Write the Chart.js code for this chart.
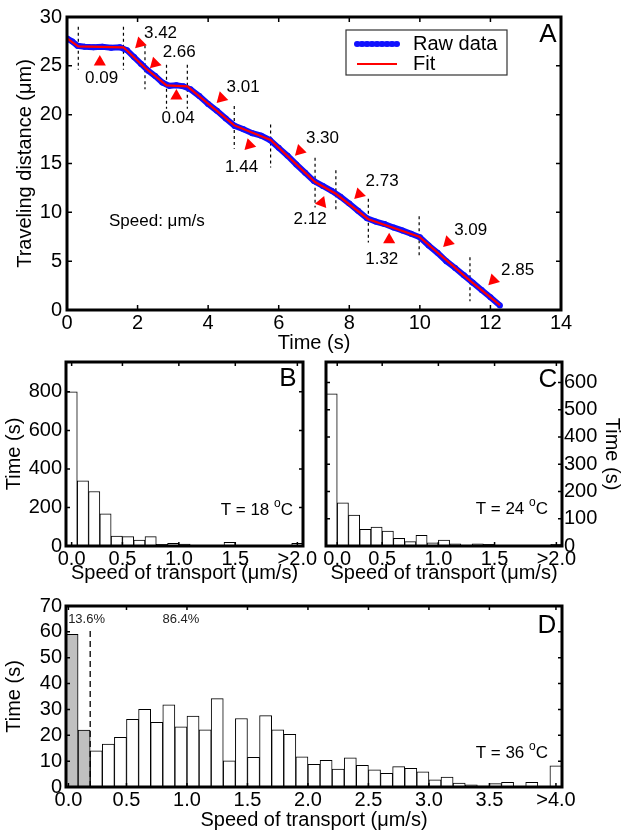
<!DOCTYPE html>
<html>
<head>
<meta charset="utf-8">
<script src="https://cdn.jsdelivr.net/npm/chart.js@4.4.0/dist/chart.umd.min.js"></script>
<style>
  body { margin: 0; background: #fff; width: 624px; height: 835px; position: relative; overflow: hidden; }
  canvas { position: absolute; }
</style>
</head>
<body>
<canvas id="chartA" width="624" height="355" style="left:0;top:0"></canvas>
<canvas id="chartB" width="330" height="260" style="left:0;top:330px"></canvas>
<canvas id="chartC" width="324" height="260" style="left:300px;top:330px"></canvas>
<canvas id="chartD" width="624" height="245" style="left:0;top:590px"></canvas>
<script>
// ---- panel A: traveling distance over time ----
const fitTime = [0, 0.32, 1.6, 2.21, 2.82, 3.41, 4.74, 5.77, 7.03, 7.62, 8.54, 9.98, 11.42, 12.27];
const fitDist = [27.8, 27.0, 26.9, 24.8, 23.0, 22.9, 18.9, 17.4, 13.1, 11.9, 9.3, 7.5, 3.0, 0.5];

const rawTime = [0, 0.15, 0.3, 0.5, 0.75, 1.0, 1.25, 1.5, 1.7, 1.9, 2.1, 2.3, 2.5, 2.7, 2.9,
                 3.1, 3.3, 3.5, 3.75, 4.0, 4.25, 4.5, 4.75, 5.0, 5.25, 5.5, 5.75, 6.0, 6.25, 6.5,
                 6.75, 7.0, 7.25, 7.5, 7.75, 8.0, 8.25, 8.5, 8.75, 9.0, 9.25, 9.5, 9.75, 10.0,
                 10.25, 10.5, 10.75, 11.0, 11.25, 11.5, 11.75, 12.0, 12.27];
const rawDist = [27.8, 27.5, 27.05, 26.95, 26.9, 26.95, 26.85, 26.9, 26.6, 25.9, 25.2, 24.5, 23.95, 23.3, 22.95,
                 23.0, 22.9, 22.6, 21.9, 21.1, 20.4, 19.6, 18.85, 18.5, 18.1, 17.85, 17.4, 16.6, 15.8, 14.9,
                 14.05, 13.2, 12.7, 12.2, 11.6, 10.9, 10.15, 9.4, 9.05, 8.8, 8.45, 8.15, 7.8, 7.45,
                 6.6, 5.85, 5.0, 4.3, 3.55, 2.8, 2.05, 1.3, 0.45];

// dashed markers where the speed changes
const cutTime   = [0.32, 1.6, 2.21, 2.82, 3.41, 4.74, 5.77, 7.03, 7.62, 8.54, 9.98, 11.42];
const cutTop    = [29.0, 29.0, 27.1, 25.1, 25.1, 20.9, 19.0, 15.6, 14.3, 11.4, 9.6, 5.4];
const cutBottom = [24.6, 24.6, 22.6, 20.6, 20.6, 16.5, 14.6, 10.5, 10.0, 6.9, 5.3, 0.9];

// speed of each segment (um/s) and its red arrow
const speedText = ['0.09', '3.42', '2.66', '0.04', '3.01', '1.44', '3.30', '2.12', '2.73', '1.32', '3.09', '2.85'];
const arrowTime = [0.93, 2.07, 2.49, 3.1, 4.38, 5.17, 6.6, 7.22, 8.28, 9.13, 10.8, 12.08];
const arrowDist = [25.4, 27.3, 25.25, 21.9, 21.7, 16.9, 16.3, 11.0, 11.86, 7.2, 6.95, 3.05];
const arrowTurn = [0, 225, 225, 0, 225, -15, 225, 20, 225, 0, 225, 225];
const labelTime = [0.98, 2.65, 3.18, 3.15, 4.99, 4.95, 7.24, 6.89, 8.93, 8.92, 11.44, 12.77];
const labelDist = [23.7, 28.3, 26.4, 19.6, 22.8, 14.6, 17.6, 9.3, 13.15, 5.15, 8.2, 4.1];

// ---- panels B, C, D: histograms of transport speed ----
const binsB = [0.05, 0.15, 0.25, 0.35, 0.45, 0.55, 0.65, 0.75, 0.85, 0.95, 1.05,
               1.15, 1.25, 1.35, 1.45, 1.55, 1.65, 1.75, 1.85, 1.95, 2.05];
const timeB = [800, 338, 283, 167, 52, 49, 31, 49, 9, 14, 10, 0, 0, 0, 19, 0, 0, 0, 0, 0, 14];
const timeC = [558, 158, 113, 61, 69, 55, 28, 16, 39, 12, 22, 8, 2, 8, 6, 0, 0, 0, 0, 0, 6];
const tickPosB = [0.05, 0.5, 1.0, 1.5, 2.05];
const tickPosC = [0.1, 0.5, 1.0, 1.5, 2.05];
const tickTextBC = ['0.0', '0.5', '1.0', '1.5', '>2.0'];

const binsD = [0.05, 0.15, 0.25, 0.35, 0.45, 0.55, 0.65, 0.75, 0.85, 0.95,
               1.05, 1.15, 1.25, 1.35, 1.45, 1.55, 1.65, 1.75, 1.85, 1.95,
               2.05, 2.15, 2.25, 2.35, 2.45, 2.55, 2.65, 2.75, 2.85, 2.95,
               3.05, 3.15, 3.25, 3.35, 3.45, 3.55, 3.65, 3.75, 3.85, 3.95, 4.05];
const timeD = [59, 22, 14, 16.6, 19.2, 26.2, 30, 25, 31.8, 23.3,
               27.4, 22.1, 34.2, 10.1, 26.5, 11.5, 27.6, 22.1, 20.4, 11.7,
               8.8, 10.3, 6.9, 11.3, 8.4, 6.6, 5.3, 7.9, 7.2, 5.9,
               2.8, 3.8, 1.5, 0.8, 0.4, 1.3, 1.8, 0, 1.8, 0, 8.2];
const tickPosD = [0.02, 0.5, 1.0, 1.5, 2.0, 2.5, 3.0, 3.5, 4.05];
const tickTextD = ['0.0', '0.5', '1.0', '1.5', '2.0', '2.5', '3.0', '3.5', '>4.0'];
const pausedBins = 2;   // first bins shaded grey (slow, 13.6%)
const splitSpeed = 0.2;


const FONT = '"Liberation Sans", Arial, Helvetica, sans-serif';
Chart.defaults.font.family = FONT;
Chart.defaults.font.size = 20;
Chart.defaults.color = '#000';
Chart.defaults.animation = false;
Chart.defaults.events = [];
Chart.defaults.plugins.legend.display = false;
Chart.defaults.plugins.tooltip.enabled = false;


// box around the plot with matlab style inward ticks
const frame = {
    id: 'frame',
    afterDatasetsDraw(chart, args, opts) {
        const { ctx, chartArea: a, scales } = chart;
        const tl = opts.tick || 5;
        ctx.save();
        ctx.strokeStyle = '#000';
        ctx.lineWidth = 1.5;
        ctx.beginPath();
        scales.x.ticks.forEach(t => {
            const px = scales.x.getPixelForValue(t.value);
            ctx.moveTo(px, a.bottom); ctx.lineTo(px, a.bottom - tl);
            ctx.moveTo(px, a.top);    ctx.lineTo(px, a.top + tl);
        });
        scales.y.ticks.forEach(t => {
            const py = scales.y.getPixelForValue(t.value);
            ctx.moveTo(a.left, py);  ctx.lineTo(a.left + tl, py);
            ctx.moveTo(a.right, py); ctx.lineTo(a.right - tl, py);
        });
        ctx.stroke();
        ctx.lineWidth = opts.width || 3;
        ctx.strokeRect(a.left, a.top, a.right - a.left, a.bottom - a.top);
        ctx.restore();
    }
};

// free text: data coords, or pixels from the plot corners
const notes = {
    id: 'notes',
    afterDatasetsDraw(chart, args, opts) {
        const { ctx, chartArea: a, scales } = chart;
        ctx.save();
        ctx.textBaseline = 'middle';
        (opts.items || []).forEach(n => {
            let px, py;
            if (n.data) {
                px = scales.x.getPixelForValue(n.x);
                py = scales.y.getPixelForValue(n.y);
            } else {
                px = (n.fromRight ? a.right : a.left) + n.x;
                py = (n.fromBottom ? a.bottom : a.top) + n.y;
            }
            ctx.fillStyle = n.color || '#000';
            ctx.font = `${n.size}px ${FONT}`;
            if (n.sup) {
                // "T = 18 °C" with a raised small o
                const w1 = ctx.measureText(n.text).width;
                const w3 = ctx.measureText(n.tail).width;
                ctx.font = `${Math.round(n.size * 0.7)}px ${FONT}`;
                const w2 = ctx.measureText(n.sup).width;
                let x0 = px - (w1 + w2 + w3);
                ctx.textAlign = 'left';
                ctx.font = `${n.size}px ${FONT}`;
                ctx.fillText(n.text, x0, py);
                ctx.font = `${Math.round(n.size * 0.7)}px ${FONT}`;
                ctx.fillText(n.sup, x0 + w1, py - n.size * 0.38);
                ctx.font = `${n.size}px ${FONT}`;
                ctx.fillText(n.tail, x0 + w1 + w2, py);
            } else {
                ctx.textAlign = n.align || 'center';
                ctx.fillText(n.text, px, py);
            }
        });
        ctx.restore();
    }
};

// legend box inside panel A
const boxLegend = {
    id: 'boxLegend',
    afterDatasetsDraw(chart) {
        const { ctx, chartArea: a } = chart;
        const x0 = a.right - 215, y0 = a.top + 13;
        ctx.save();
        ctx.fillStyle = '#fff';
        ctx.fillRect(x0, y0, 161, 45);
        ctx.strokeStyle = '#333';
        ctx.lineWidth = 1.2;
        ctx.strokeRect(x0, y0, 161, 45);
        // raw data sample
        ctx.strokeStyle = '#1010ff';
        ctx.lineWidth = 5;
        ctx.beginPath(); ctx.moveTo(x0 + 11, y0 + 14); ctx.lineTo(x0 + 51, y0 + 14); ctx.stroke();
        ctx.fillStyle = '#1010ff';
        for (let i = 0; i <= 8; i++) {
            ctx.beginPath(); ctx.arc(x0 + 11 + i * 5, y0 + 14, 3, 0, Math.PI * 2); ctx.fill();
        }
        // fit sample
        ctx.strokeStyle = '#ff0000';
        ctx.lineWidth = 2;
        ctx.beginPath(); ctx.moveTo(x0 + 11, y0 + 34); ctx.lineTo(x0 + 51, y0 + 34); ctx.stroke();
        ctx.fillStyle = '#000';
        ctx.font = `20px ${FONT}`;
        ctx.textBaseline = 'middle';
        ctx.fillText('Raw data', x0 + 67, y0 + 14);
        ctx.fillText('Fit', x0 + 67, y0 + 34);
        ctx.restore();
    }
};


function toPoints(xs, ys) {
    return xs.map((x, i) => ({ x: x, y: ys[i] }));
}

const cutPoints = cutTime.flatMap((t, i) => [
    { x: t, y: cutTop[i] }, { x: t, y: cutBottom[i] }, { x: t, y: null }
]);

const speedNotes = speedText.map((s, i) => ({
    text: s, data: true, x: labelTime[i], y: labelDist[i], size: 17
}));


new Chart(document.getElementById('chartA'), {
    type: 'scatter',
    data: {
        datasets: [
            {
                label: 'arrows',
                data: toPoints(arrowTime, arrowDist),
                pointStyle: 'triangle',
                pointRadius: 7,
                pointRotation: arrowTurn,
                pointBackgroundColor: '#ff0000',
                pointBorderWidth: 0,
                order: 0
            },
            {
                label: 'Fit',
                data: toPoints(fitTime, fitDist),
                showLine: true,
                borderColor: '#ff0000',
                borderWidth: 2.2,
                pointRadius: 0,
                order: 1
            },
            {
                label: 'Raw data',
                data: toPoints(rawTime, rawDist),
                showLine: true,
                borderColor: '#1010ff',
                borderWidth: 6,
                pointRadius: 3,
                pointBackgroundColor: '#1010ff',
                pointBorderWidth: 0,
                order: 2
            },
            {
                label: 'cuts',
                data: cutPoints,
                showLine: true,
                spanGaps: false,
                borderColor: '#000',
                borderWidth: 1.2,
                borderDash: [3, 3],
                pointRadius: 0,
                order: 3
            }
        ]
    },
    options: {
        responsive: false,
        devicePixelRatio: 1,
        layout: { padding: { top: 15, right: 63, left: 0, bottom: 0 } },
        scales: {
            x: {
                type: 'linear', min: 0, max: 14,
                grid: { display: false, drawTicks: false },
                border: { display: false },
                ticks: { stepSize: 2, padding: 1, maxRotation: 0, autoSkip: false },
                title: { display: true, text: 'Time (s)', padding: { top: 0, bottom: 0 } },
                afterFit: s => { s.height = 45; }
            },
            y: {
                type: 'linear', min: 0, max: 30,
                grid: { display: false, drawTicks: false },
                border: { display: false },
                ticks: { stepSize: 5, padding: 5, autoSkip: false },
                title: { display: true, text: 'Traveling distance (μm)', padding: { top: 13, bottom: 0 } },
                afterFit: s => { s.width = 67; }
            }
        },
        plugins: {
            frame: { tick: 5, width: 3 },
            notes: {
                items: speedNotes.concat([
                    { text: 'Speed: μm/s', data: true, x: 1.19, y: 9.08, align: 'left', size: 17 },
                    { text: 'A', x: -13, y: 18, fromRight: true, size: 26 }
                ])
            }
        }
    },
    plugins: [frame, notes, boxLegend]
});


function histogram(id, opts) {
    const datasets = [{
        type: 'bar',
        data: toPoints(opts.bins, opts.values),
        backgroundColor: opts.fills || '#fff',
        borderColor: '#000',
        borderWidth: 1,
        barPercentage: 1,
        categoryPercentage: 1,
        order: 1
    }];
    if (opts.extra) datasets.unshift(opts.extra);

    return new Chart(document.getElementById(id), {
        type: 'bar',
        data: { datasets: datasets },
        options: {
            responsive: false,
            devicePixelRatio: 1,
            layout: { padding: opts.padding },
            scales: {
                x: {
                    type: 'linear', min: 0, max: opts.xMax, offset: false,
                    grid: { display: false, drawTicks: false },
                    border: { display: false },
                    afterBuildTicks: s => { s.ticks = opts.tickPos.map(v => ({ value: v })); },
                    ticks: { padding: 1, maxRotation: 0, autoSkip: false,
                             callback: (v, i) => opts.tickText[i] },
                    title: { display: true, text: 'Speed of transport (μm/s)',
                             padding: { top: 0, bottom: opts.titleGap } },
                    afterFit: s => { s.height = opts.xHeight; }
                },
                y: {
                    type: 'linear', min: 0, max: opts.yMax,
                    position: opts.yRight ? 'right' : 'left',
                    grid: { display: false, drawTicks: false },
                    border: { display: false },
                    ticks: { stepSize: opts.yStep, includeBounds: false, autoSkip: false,
                             padding: opts.yRight ? 2 : 4 },
                    title: { display: true, text: 'Time (s)', padding: { top: opts.yTitleGap, bottom: 0 } },
                    afterFit: s => { s.width = opts.yWidth; }
                }
            },
            plugins: {
                frame: { tick: 4, width: 3 },
                notes: { items: opts.notes }
            }
        },
        plugins: [frame, notes]
    });
}

histogram('chartB', {
    bins: binsB, values: timeB, xMax: 2.1, yMax: 955, yStep: 200,
    tickPos: tickPosB, tickText: tickTextBC,
    padding: { top: 32, right: 27, left: 0, bottom: 0 },
    xHeight: 44, yWidth: 66, titleGap: 5, yTitleGap: 2,
    notes: [
        { text: 'B', x: -15, y: 17, fromRight: true, size: 26 },
        { text: 'T = 18 ', sup: 'o', tail: 'C', x: -10, y: -36, fromRight: true, fromBottom: true, size: 17 }
    ]
});

histogram('chartC', {
    bins: binsB, values: timeC, xMax: 2.1, yMax: 675, yStep: 100,
    tickPos: tickPosC, tickText: tickTextBC, yRight: true,
    padding: { top: 32, right: 0, left: 26, bottom: 0 },
    xHeight: 44, yWidth: 62, titleGap: 5, yTitleGap: 0,
    notes: [
        { text: 'C', x: -14, y: 18, fromRight: true, size: 26 },
        { text: 'T = 24 ', sup: 'o', tail: 'C', x: -14, y: -37, fromRight: true, fromBottom: true, size: 17 }
    ]
});

histogram('chartD', {
    bins: binsD, values: timeD, xMax: 4.1, yMax: 70, yStep: 10,
    tickPos: tickPosD, tickText: tickTextD,
    fills: binsD.map((b, i) => i < pausedBins ? '#c0c0c0' : '#fff'),
    padding: { top: 12, right: 62, left: 0, bottom: 0 },
    xHeight: 48, yWidth: 66, titleGap: 3, yTitleGap: 2,
    extra: {
        type: 'line',
        data: [{ x: splitSpeed, y: 0 }, { x: splitSpeed, y: 61.5 }],
        borderColor: '#000',
        borderWidth: 1.3,
        borderDash: [6, 4],
        pointRadius: 0,
        order: 0
    },
    notes: [
        { text: 'D', x: -15, y: 20, fromRight: true, size: 26 },
        { text: 'T = 36 ', sup: 'o', tail: 'C', x: -14, y: -34, fromRight: true, fromBottom: true, size: 17 },
        { text: '13.6%', data: true, x: 0.17, y: 65, size: 13, color: '#222' },
        { text: '86.4%', data: true, x: 0.95, y: 65, size: 13, color: '#222' }
    ]
});
</script>
</body>
</html>
